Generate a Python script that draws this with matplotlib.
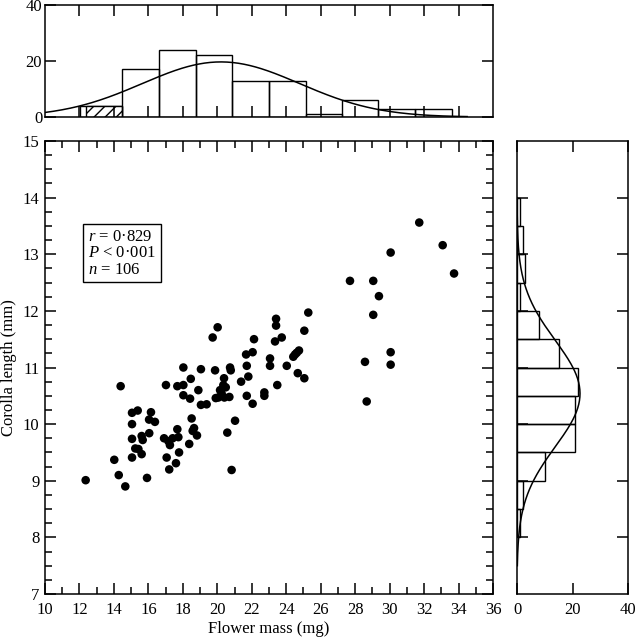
import numpy as np
import matplotlib
matplotlib.use('Agg')
import matplotlib.pyplot as plt
from matplotlib.ticker import MultipleLocator

plt.rcParams['font.family'] = 'Liberation Serif'
plt.rcParams['mathtext.fontset'] = 'custom'
plt.rcParams['mathtext.rm'] = 'Liberation Serif'
plt.rcParams['mathtext.it'] = 'Liberation Serif:italic'
plt.rcParams['hatch.linewidth'] = 1.0

# flower mass (mg) vs corolla length (mm)
mass = [12.36, 14.39, 14.02, 14.28, 14.66, 15.05, 15.38, 15.05, 15.05, 15.05,
        15.24, 15.61, 15.67, 15.61, 15.42, 16.05, 16.15, 16.04, 16.38, 15.92,
        17.02, 17.68, 18.03, 18.03, 18.46, 18.03, 18.42, 16.91, 17.16, 17.41,
        17.74, 17.68, 17.25, 17.06, 17.78, 17.60, 17.21, 18.51, 18.65, 18.57,
        18.82, 18.37,
        18.90, 19.05, 19.05, 19.38, 19.87, 20.02, 19.73, 20.74, 20.78, 20.39,
        20.35, 20.49, 20.16, 20.25, 20.06, 19.91, 20.41, 20.70, 21.38, 21.71,
        21.80, 21.71, 22.05, 21.67, 22.05, 22.13, 21.03, 20.58, 20.83, 22.73,
        22.73, 23.06, 23.06, 23.35, 23.41, 23.41, 23.74, 23.48, 24.03, 24.41,
        24.61, 24.74, 24.51, 24.67, 25.05, 25.05, 25.28,
        28.57, 28.67, 31.72, 33.08, 33.74, 30.06, 27.70, 29.05, 29.38, 29.05,
        30.06, 30.06]
corolla = [9.01, 10.67, 9.37, 9.10, 8.90, 10.20, 10.24, 10.00, 9.74, 9.41,
           9.57, 9.79, 9.72, 9.47, 9.56, 9.84, 10.21, 10.08, 10.04, 9.05,
           10.69, 10.67, 10.69, 11.00, 10.80, 10.51, 10.45, 9.75, 9.70, 9.75,
           9.77, 9.91, 9.63, 9.41, 9.50, 9.31, 9.20, 10.10, 9.93, 9.88,
           9.80, 9.65,
           10.60, 10.97, 10.34, 10.35, 10.95, 11.71, 11.53, 11.00, 10.95, 10.81,
           10.69, 10.65, 10.60, 10.54, 10.47, 10.46, 10.47, 10.48, 10.75, 11.03,
           10.84, 10.50, 10.36, 11.23, 11.27, 11.50, 10.06, 9.85, 9.19, 10.56,
           10.50, 11.16, 11.03, 11.46, 11.74, 11.86, 11.53, 10.69, 11.03, 11.19,
           11.26, 11.30, 11.23, 10.90, 11.65, 10.81, 11.97,
           11.10, 10.40, 13.56, 13.16, 12.66, 13.03, 12.53, 12.53, 12.26, 11.93,
           11.27, 11.05]

# flower mass histogram (top)
mass_edges = [12.37, 14.47, 16.60, 18.74, 20.88, 23.00, 25.12, 27.23, 29.35, 31.49, 33.63]
mass_counts = [4, 17, 24, 22, 13, 13, 1, 6, 3, 3]
mass_outline_left = 12.02
mass_mean, mass_sd = 20.21, 4.57

# corolla length histogram (right)
cor_edges = [8.0, 8.5, 9.0, 9.5, 10.0, 10.5, 11.0, 11.5, 12.0, 12.5, 13.0, 13.5, 14.0]
cor_counts = [1, 2, 10, 21, 21, 22, 15, 8, 1, 3, 2, 1]
cor_mean, cor_sd = 10.54, 0.94

stats_lines = [r'$r$ = 0·829', r'$P$ < 0·001', r'$n$ = 106']

W, H = 635, 639
fig = plt.figure(figsize=(W / 100, H / 100), dpi=100)

def box(l, r, t, b):
    return [l / W, 1 - b / H, (r - l) / W, (b - t) / H]

ax = fig.add_axes(box(45, 493, 141, 594))
axt = fig.add_axes(box(45, 493, 5, 117))
axr = fig.add_axes(box(517, 628, 141, 594))

fs = 12
lw = 1.1
for a in (ax, axt, axr):
    for s in a.spines.values():
        s.set_linewidth(lw)

# main scatter
ax.scatter(mass, corolla, s=38, color='black', edgecolors='none', zorder=3)
ax.set_xlim(10, 36)
ax.set_ylim(7, 15)
ax.xaxis.set_major_locator(MultipleLocator(2))
ax.xaxis.set_minor_locator(MultipleLocator(1))
ax.yaxis.set_major_locator(MultipleLocator(1))
ax.yaxis.set_minor_locator(MultipleLocator(0.25))
ax.tick_params(which='both', direction='in', top=True, right=True, width=lw, labelsize=fs)
ax.tick_params(which='major', length=8)
ax.tick_params(which='minor', length=5)
ax.tick_params(axis='x', pad=6)
ax.tick_params(axis='y', pad=4)
ax.set_xlabel('Flower mass (mg)', fontsize=fs, labelpad=2)
ax.set_ylabel('Corolla length (mm)', fontsize=fs, labelpad=4)

ax.text(12.51, 13.31, stats_lines[0], fontsize=fs, va='center', ha='left')
ax.text(12.51, 13.02, stats_lines[1], fontsize=fs, va='center', ha='left')
ax.text(12.51, 12.72, stats_lines[2], fontsize=fs, va='center', ha='left')
ax.add_patch(plt.Rectangle((12.19, 12.51), 16.72 - 12.19, 13.53 - 12.51,
                           fill=False, edgecolor='black', linewidth=1.0))

# top histogram
widths = np.diff(mass_edges)
axt.bar(mass_outline_left, mass_counts[0], width=mass_edges[1] - mass_outline_left,
        align='edge', fill=False, edgecolor='black', linewidth=1.0)
axt.bar(mass_edges[0], mass_counts[0], width=widths[0], align='edge',
        facecolor='white', edgecolor='black', hatch='///', linewidth=1.0)
axt.bar(mass_edges[1:-1], mass_counts[1:], width=widths[1:], align='edge',
        fill=False, edgecolor='black', linewidth=1.0)
xs = np.linspace(10, 34.5, 300)
bw = np.mean(widths)
axt.plot(xs, sum(mass_counts) * bw / (mass_sd * np.sqrt(2 * np.pi)) *
         np.exp(-0.5 * ((xs - mass_mean) / mass_sd) ** 2), color='black', linewidth=1.1)
axt.set_xlim(10, 36)
axt.set_ylim(0, 40)
axt.set_xticks(np.arange(12, 35, 2))
axt.set_yticks([0, 20, 40])
axt.tick_params(which='both', direction='in', top=True, right=True, width=lw,
                length=8, labelsize=fs, labelbottom=False, pad=2)

# right histogram
cw = np.diff(cor_edges)
axr.barh(cor_edges[:-1], cor_counts, height=cw, align='edge',
         fill=False, edgecolor='black', linewidth=1.0)
ys = np.linspace(7.5, 14.0, 300)
axr.plot(sum(cor_counts) * 0.5 / (cor_sd * np.sqrt(2 * np.pi)) *
         np.exp(-0.5 * ((ys - cor_mean) / cor_sd) ** 2), ys, color='black', linewidth=1.1)
axr.set_xlim(0, 40)
axr.set_ylim(7, 15)
axr.set_xticks([0, 20, 40])
axr.set_yticks(np.arange(8, 15, 1))
axr.tick_params(which='both', direction='in', top=True, right=True, width=lw,
                length=8, labelsize=fs, labelleft=False)
axr.tick_params(axis='x', pad=6)

fig.savefig('out.png', dpi=100)
